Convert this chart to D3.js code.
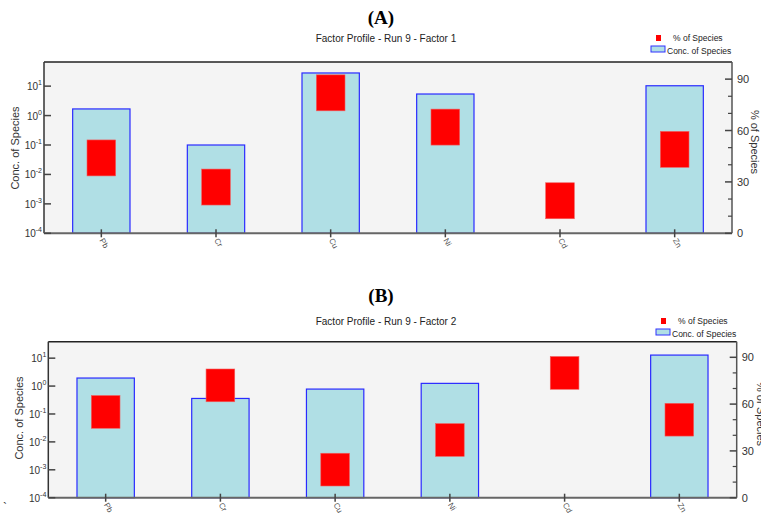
<!DOCTYPE html>
<html lang="en">
<head>
<meta charset="utf-8">
<title>Factor Profile - Run 9</title>
<script src="https://cdn.jsdelivr.net/npm/d3@7"></script>
<style>
  body { margin: 0; background: #fff; }
  svg { font-family: "Liberation Sans", Arial, sans-serif; }
</style>
</head>
<body>
<svg id="chart" width="761" height="513"></svg>
<script>
// species and values
const species = ["Pb", "Cr", "Cu", "Ni", "Cd", "Zn"];
const concA = [1.68, 0.1, 28, 5.4, null, 10.3];   // conc. of species, factor 1
const pctA  = [44, 27, 82, 62, 19, 49];           // % of species, factor 1
const concB = [1.94, 0.36, 0.78, 1.25, null, 12.9];
const pctB  = [55, 72, 18, 37, 80, 50];
const concTicks = [1e-4, 1e-3, 1e-2, 1e-1, 1e0, 1e1];
const pctTicks = [0, 30, 60, 90];
const pctMinor = [10, 20, 40, 50, 70, 80];

const svg = d3.select("#chart");

function drawPanel(p) {
  const g = svg.append("g");
  const x = d3.scaleBand().domain(species).range([p.left, p.right]).paddingInner(0).paddingOuter(0);
  const yc = d3.scaleLog().domain([1e-4, p.logTop]).range([p.bottom, p.top]);
  const yp = d3.scaleLinear().domain([0, 100]).range([p.bottom, p.top]);

  // titles
  g.append("text").attr("x", 381).attr("y", p.titleY)
    .attr("text-anchor", "middle")
    .style("font-family", "'Liberation Serif', 'Times New Roman', serif")
    .style("font-weight", "bold").style("font-size", "19px").text(p.letter);
  g.append("text").attr("x", 386).attr("y", p.subY)
    .attr("text-anchor", "middle").style("font-size", "10px").attr("fill", "#222")
    .text(p.subtitle);

  // legend
  g.append("rect").attr("x", p.legX + 5).attr("y", p.legY - 6).attr("width", 5).attr("height", 6).attr("fill", "#ff0000");
  g.append("text").attr("x", p.legX + 22).attr("y", p.legY).style("font-size", "8.5px").attr("fill", "#222").text("% of Species");
  g.append("rect").attr("x", p.legX).attr("y", p.legY + 5).attr("width", 14).attr("height", 6)
    .attr("fill", "#b0dfe5").attr("stroke", "#3030ff").attr("stroke-width", 1);
  g.append("text").attr("x", p.legX + 16).attr("y", p.legY + 13).style("font-size", "8.5px").attr("fill", "#222").text("Conc. of Species");

  // plot background
  g.append("rect").attr("x", p.left).attr("y", p.top)
    .attr("width", p.right - p.left).attr("height", p.bottom - p.top).attr("fill", "#f4f4f4");

  // concentration bars
  const bw = x.bandwidth() * 0.5;
  g.selectAll(".bar").data(species.map((s, i) => ({s, v: p.conc[i]})).filter(d => d.v != null))
    .enter().append("rect").attr("class", "bar")
    .attr("x", d => x(d.s) + x.bandwidth() / 2 - bw / 2)
    .attr("y", d => yc(d.v))
    .attr("width", bw)
    .attr("height", d => p.bottom - yc(d.v))
    .attr("fill", "#b0dfe5").attr("stroke", "#2a2aff").attr("stroke-width", 1.2);

  // % of species markers
  const mw = x.bandwidth() * 0.25;
  const mh = yp(0) - yp(21);
  g.selectAll(".pct").data(species.map((s, i) => ({s, v: p.pct[i]})))
    .enter().append("rect").attr("class", "pct")
    .attr("x", d => x(d.s) + x.bandwidth() / 2 - mw / 2)
    .attr("y", d => yp(d.v) - mh / 2)
    .attr("width", mw).attr("height", mh)
    .attr("fill", "#ff0000").attr("stroke", "#f06060").attr("stroke-width", 0.6);

  // frame
  g.append("line").attr("x1", p.left).attr("x2", p.right).attr("y1", p.top).attr("y2", p.top).attr("stroke", "#222").attr("stroke-width", 1.5);
  g.append("line").attr("x1", p.right).attr("x2", p.right).attr("y1", p.top).attr("y2", p.bottom).attr("stroke", "#555").attr("stroke-width", 1.5);
  g.append("line").attr("x1", p.left).attr("x2", p.left).attr("y1", p.top).attr("y2", p.bottom).attr("stroke", "#333").attr("stroke-width", 1.5);
  g.append("line").attr("x1", p.left).attr("x2", p.right).attr("y1", p.bottom).attr("y2", p.bottom).attr("stroke", "#666").attr("stroke-width", 2);

  // left log axis
  concTicks.forEach(t => {
    const y = yc(t);
    g.append("line").attr("x1", p.left).attr("x2", p.left + 7).attr("y1", y).attr("y2", y).attr("stroke", "#444").attr("stroke-width", 1.5);
    const lab = g.append("text").attr("x", p.left - 2).attr("y", y + 4)
      .attr("text-anchor", "end").style("font-size", "10px").attr("fill", "#333");
    lab.append("tspan").text("10");
    lab.append("tspan").attr("dy", -5).style("font-size", "7px").text(Math.round(Math.log10(t)));
  });

  // right % axis
  pctTicks.forEach(t => {
    const y = yp(t);
    g.append("line").attr("x1", p.right - 7).attr("x2", p.right).attr("y1", y).attr("y2", y).attr("stroke", "#444").attr("stroke-width", 1.5);
    g.append("text").attr("x", p.right + 5).attr("y", y + 4).style("font-size", "11px").attr("fill", "#333").text(t);
  });
  pctMinor.forEach(t => {
    const y = yp(t);
    g.append("line").attr("x1", p.right - 4).attr("x2", p.right).attr("y1", y).attr("y2", y).attr("stroke", "#444").attr("stroke-width", 1.2);
  });

  // x ticks + rotated labels
  species.forEach(s => {
    const cx = x(s) + x.bandwidth() / 2;
    g.append("line").attr("x1", cx).attr("x2", cx).attr("y1", p.bottom - 4).attr("y2", p.bottom + 4).attr("stroke", "#444").attr("stroke-width", 1.5);
    g.append("text").attr("transform", `translate(${cx - 2},${p.bottom + 7}) rotate(60)`)
      .style("font-size", "8px").attr("fill", "#555").text(s);
  });

  // axis titles
  g.append("text").attr("transform", `translate(${p.yLabX},${p.yLabY}) rotate(-90)`)
    .attr("text-anchor", "middle").style("font-size", "11px").attr("fill", "#333").text("Conc. of Species");
  g.append("text").attr("transform", `translate(${p.rLabX},${p.rLabY}) rotate(90)`)
    .attr("text-anchor", "middle").style("font-size", "11px").attr("fill", "#333").text("% of Species");
}

drawPanel({
  letter: "(A)", subtitle: "Factor Profile - Run 9 - Factor 1",
  titleY: 24, subY: 41.5, legX: 651, legY: 41,
  left: 44, right: 732, top: 62, bottom: 233.3, logTop: Math.pow(10, 1.82),
  conc: concA, pct: pctA,
  yLabX: 19, yLabY: 148, rLabX: 751, rLabY: 142
});
drawPanel({
  letter: "(B)", subtitle: "Factor Profile - Run 9 - Factor 2",
  titleY: 302, subY: 325, legX: 656, legY: 324,
  left: 48.3, right: 736.7, top: 341.7, bottom: 497.7, logTop: Math.pow(10, 1.59),
  conc: concB, pct: pctB,
  yLabX: 23, yLabY: 418, rLabX: 757, rLabY: 414
});

// stray mark near the bottom left corner of the original figure
svg.append("text").attr("x", 3).attr("y", 512).style("font-size", "12px").attr("fill", "#333").text("`");
</script>
</body>
</html>
